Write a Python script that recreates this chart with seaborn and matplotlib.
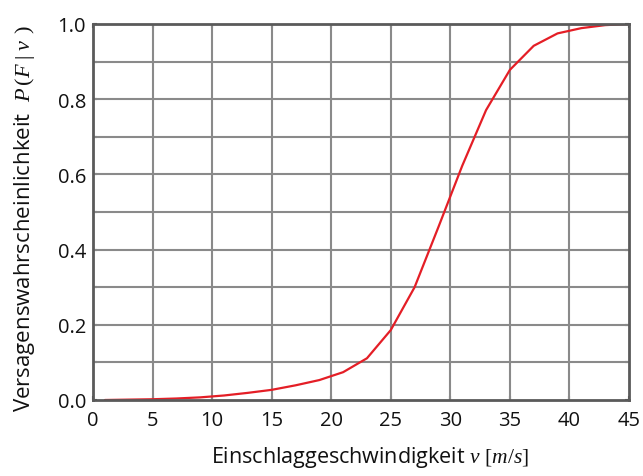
import matplotlib
matplotlib.use("Agg")
import matplotlib.pyplot as plt
import seaborn as sns
import pandas as pd
import numpy as np

# Impact velocity [m/s] and probability of failure P(F|v)
velocity = [1, 3, 5, 7, 9, 11, 13, 15, 17, 19, 21, 23, 25, 27, 29, 31, 33, 35, 37, 39, 41, 43, 45]
failure_prob = [0.0, 0.001, 0.002, 0.004, 0.007, 0.012, 0.019, 0.027, 0.039, 0.053, 0.074, 0.111,
                0.186, 0.300, 0.460, 0.623, 0.771, 0.878, 0.942, 0.975, 0.989, 0.997, 1.0]

x_ticks = [0, 5, 10, 15, 20, 25, 30, 35, 40, 45]
y_ticks = [0.0, 0.2, 0.4, 0.6, 0.8, 1.0]

sns.set_theme(style="white")
plt.rcParams["font.family"] = ["Open Sans", "DejaVu Sans"]
plt.rcParams["mathtext.fontset"] = "custom"
plt.rcParams["mathtext.rm"] = "Liberation Serif"
plt.rcParams["mathtext.it"] = "Liberation Serif:italic"

df = pd.DataFrame({"v": velocity, "p": failure_prob})

fig = plt.figure(figsize=(6.43, 4.77), dpi=100)
ax = fig.add_axes([93 / 643, 1 - 401 / 477, 536 / 643, 376 / 477])

grid_col = "#8a8a8a"
for gx in np.arange(5, 45, 5):
    ax.axvline(gx, color=grid_col, lw=1.5, zorder=1)
for gy in np.arange(0.1, 1.0, 0.1):
    ax.axhline(gy, color=grid_col, lw=1.5, zorder=1)

sns.lineplot(data=df, x="v", y="p", ax=ax, color="#e41e26", lw=1.6, zorder=3)

ax.set_xlim(0, 45)
ax.set_ylim(0, 1)
ax.set_xticks(x_ticks)
ax.set_xticklabels([str(t) for t in x_ticks])
ax.set_yticks(y_ticks)
ax.set_yticklabels([f"{t:.1f}" for t in y_ticks])
ax.set_yticks(np.arange(0.1, 1.0, 0.2), minor=True)

ax.tick_params(axis="both", which="both", direction="in", length=3, width=1.5,
               color="#444444", labelsize=14.5, labelcolor="#111111",
               top=True, right=True, bottom=True, left=True)
ax.tick_params(axis="x", pad=7)
ax.tick_params(axis="y", pad=5)

for s in ax.spines.values():
    s.set_color("#5a5a5a")
    s.set_linewidth(2)
    s.set_zorder(4)

ax.set_xlabel(r"Einschlaggeschwindigkeit $v$ $[\mathit{m/s}]$", fontsize=15.5,
              color="#111111")
ax.xaxis.set_label_coords(0.517, -0.118)
ax.set_ylabel(r"Versagenswahrscheinlichkeit  $P\,\mathrm{(}F\;\mathrm{|}\;v\;\,\mathrm{)}$",
              fontsize=16, color="#111111")
ax.yaxis.set_label_coords(-0.104, 0.485)

fig.savefig("out.png", dpi=100, facecolor="white")
